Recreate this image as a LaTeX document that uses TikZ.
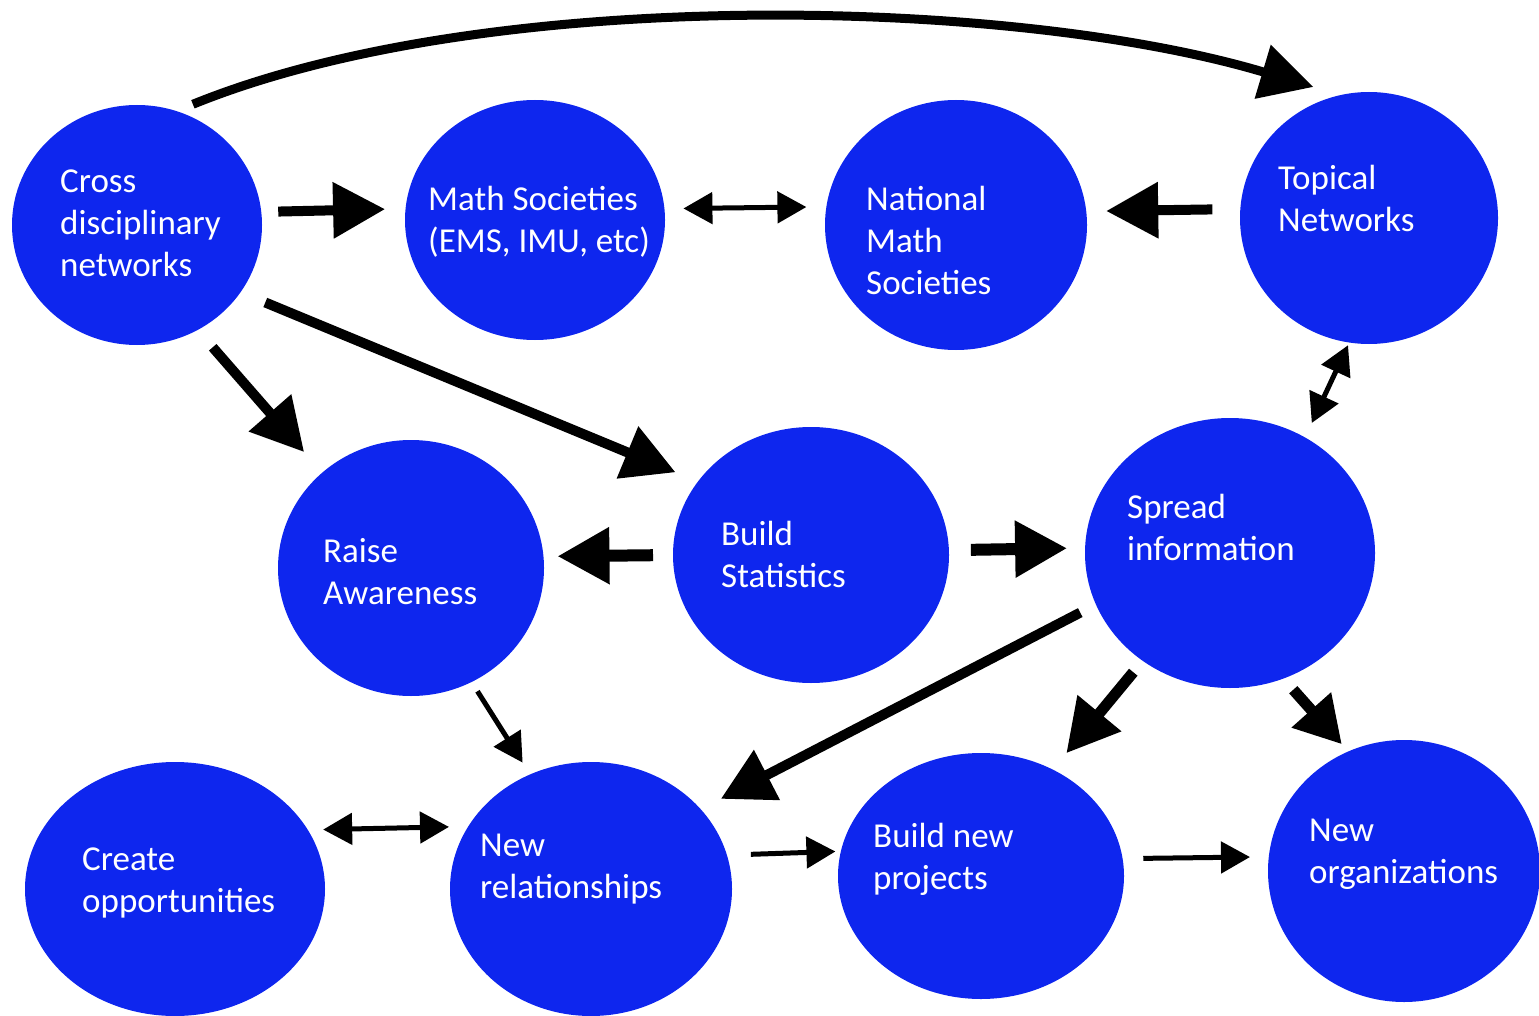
\documentclass[tikz,border=0pt]{standalone}
\usepackage{fontspec}
\setmainfont{Carlito}
\usetikzlibrary{arrows.meta,shapes.geometric}
\definecolor{nodeblue}{RGB}{14,38,238}
\begin{document}
\begin{tikzpicture}[x=1pt,y=-1pt,
  bubble/.style={ellipse, fill=nodeblue, draw=none, inner sep=0pt, outer sep=0pt},
  lbl/.style={anchor=west, align=left, text=white, inner sep=0pt, font=\fontsize{35}{42}\selectfont},
  bigarrow/.style={line width=10pt, -{Triangle[length=52pt,width=54pt]}},
  thinarrow/.style={line width=5pt, -{Triangle[length=29pt,width=31pt]}},
  dblarrow/.style={line width=5pt, {Triangle[length=29pt,width=31pt]}-{Triangle[length=29pt,width=31pt]}},
]
\useasboundingbox (0,0) rectangle (1539,1016);

% nodes
\node[bubble, minimum width=250pt, minimum height=240pt] (cross)  at (137,225) {};
\node[bubble, minimum width=260pt, minimum height=240pt] (math)   at (535,220) {};
\node[bubble, minimum width=262pt, minimum height=250pt] (nat)    at (956,225) {};
\node[bubble, minimum width=258pt, minimum height=252pt] (top)    at (1369,218) {};
\node[bubble, minimum width=266pt, minimum height=256pt] (raise)  at (411,568) {};
\node[bubble, minimum width=276pt, minimum height=256pt] (stat)   at (811,555) {};
\node[bubble, minimum width=290pt, minimum height=270pt] (spread) at (1230,553) {};
\node[bubble, minimum width=300pt, minimum height=254pt] (create) at (175,889) {};
\node[bubble, minimum width=282pt, minimum height=254pt] (newrel) at (591,889) {};
\node[bubble, minimum width=286pt, minimum height=246pt] (proj)   at (981,876) {};
\node[bubble, minimum width=272pt, minimum height=262pt] (org)    at (1404,871) {};

% labels
\node[lbl] (tcross)  at (60,223.5)   {Cross\\disciplinary\\networks};
\node[lbl] (tmath)   at (428,222)    {Math Societies\\(EMS, IMU, etc)};
\node[lbl] (tnat)    at (866,240.5)  {National\\Math\\Societies};
\node[lbl] (ttop)    at (1278,198)   {Topical\\Networks};
\node[lbl] (traise)  at (323,571.5)  {Raise\\Awareness};
\node[lbl] (tstat)   at (721,554.5)  {Build\\Statistics};
\node[lbl] (tspread) at (1127,527)   {Spread\\information};
\node[lbl] (tcreate) at (82,882.5)   {Create\\opportunities};
\node[lbl] (tnewrel) at (480,869.5)  {New\\relationships};
\node[lbl] (tproj)   at (873,859.5)  {Build new\\projects};
\node[lbl] (torg)    at (1309,854.5) {New\\organizations};

% connectors
\draw[line width=9pt, -{Triangle[length=53pt,width=54pt]}, shorten <=18pt, shorten >=28.4pt]
  (cross.71.5) .. controls (485,-14.5) and (1010.3,-3.6) .. (top.103.2);
\draw[bigarrow, shorten <=17pt, shorten >=20.5pt] (cross.6.9) -- (math.175.6);
\draw[dblarrow, shorten <=19pt, shorten >=20pt] (math.5.7) -- (nat.172.1);
\draw[bigarrow, shorten <=28pt, shorten >=20pt] (top.176.4) -- (nat.6.6);
\draw[bigarrow, shorten <=23pt, shorten >=27.5pt] (cross.-60.5) -- (raise.133.7);
\draw[bigarrow, shorten <=26.8pt, shorten >=24.3pt] (cross.-33.3) -- (stat.147.4);
\draw[bigarrow, line width=12pt, shorten <=20pt, shorten >=14pt] (stat.180) -- (raise.5.6);
\draw[bigarrow, line width=12pt, shorten <=22pt, shorten >=18pt] (stat.2.9) -- (spread.178);
\draw[dblarrow, shorten <=16pt, shorten >=3pt] (spread.57.9) -- (top.-99.9);
\draw[thinarrow, shorten <=11pt, shorten >=14pt] (raise.-62.8) -- (newrel.118.2);
\draw[bigarrow, shorten <=17.7pt, shorten >=22.6pt] (spread.-159.2) -- (newrel.36.5);
\draw[bigarrow, line width=11pt, shorten <=14.8pt, shorten >=21.3pt] (spread.-129.2) -- (proj.56.2);
\draw[line width=11pt, -{Triangle[length=46pt,width=50pt]}, shorten <=15pt, shorten >=9.7pt] (spread.-67) -- (org.115.9);
\draw[dblarrow, shorten <=15.4pt, shorten >=19.3pt] (create.24.9) -- (newrel.153.7);
\draw[thinarrow, shorten <=24pt, shorten >=5.5pt] (newrel.14.9) -- (proj.170.7);
\draw[thinarrow, shorten <=20.7pt, shorten >=18.8pt] (proj.7.7) -- (org.174.1);
\end{tikzpicture}
\end{document}
